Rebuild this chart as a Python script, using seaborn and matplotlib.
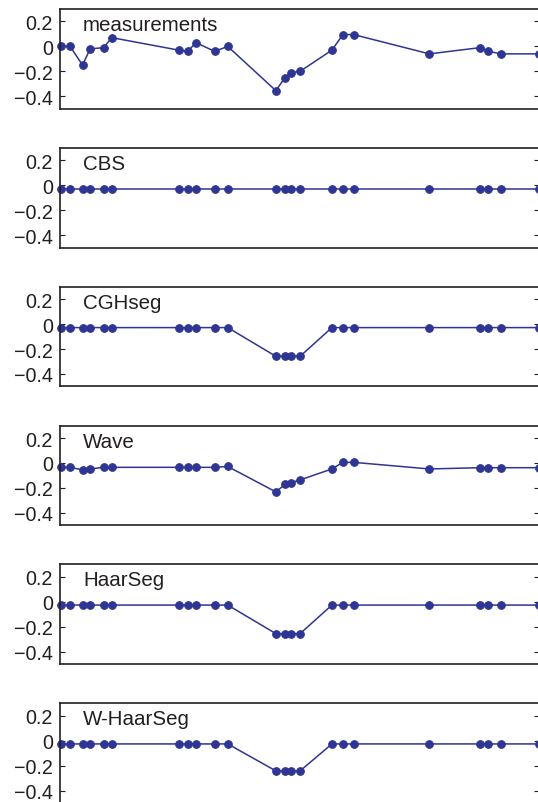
import matplotlib
matplotlib.use('Agg')

import matplotlib.pyplot as plt
import pandas as pd
import seaborn as sns

# probe positions along the chromosome (arbitrary units)
positions = [0, 9.3, 21.7, 29.3, 42.7, 51, 117.7, 126.7, 135, 153.7, 166.7,
             214.7, 224, 229.7, 239, 270.7, 281.7, 292.3, 368, 418.7, 427, 440, 477.3]

measurements = [0.0, 0.0, -0.15, -0.02, -0.01, 0.07, -0.03, -0.04, 0.03, -0.04, 0.0,
                -0.355, -0.25, -0.21, -0.20, -0.03, 0.095, 0.095, -0.06, -0.01, -0.04, -0.06, -0.06]
cbs = [-0.028] * 23
cghseg = [-0.028] * 11 + [-0.258] * 4 + [-0.028] * 8
wave = [-0.035, -0.035, -0.055, -0.048, -0.035, -0.035, -0.035, -0.035, -0.035, -0.035, -0.028,
        -0.232, -0.172, -0.158, -0.136, -0.048, 0.005, 0.005, -0.048, -0.038, -0.038, -0.038, -0.038]
haarseg = [-0.026] * 11 + [-0.255] * 4 + [-0.026] * 8
w_haarseg = [-0.026] * 11 + [-0.242] * 4 + [-0.026] * 8

panel_names = ['measurements', 'CBS', 'CGHseg', 'Wave', 'HaarSeg', 'W-HaarSeg']
panel_values = [measurements, cbs, cghseg, wave, haarseg, w_haarseg]

ytick_values = [0.2, 0, -0.2, -0.4]
ytick_labels = ['0.2', '0', '\u22120.2', '\u22120.4']

sns.set_style('ticks')
plt.rcParams['font.family'] = ['Liberation Sans', 'DejaVu Sans']

color = '#2e3592'
ink = '#231f20'

W, H = 538, 803
fig = plt.figure(figsize=(W / 100, H / 100), dpi=100)

for i, (name, vals) in enumerate(zip(panel_names, panel_values)):
    top = 10 + 138.86 * i
    h = 99.7
    ax = fig.add_axes([60 / W, 1 - (top + h) / H, 478.8 / W, h / H])
    df = pd.DataFrame({'pos': positions, 'value': vals})
    sns.lineplot(data=df, x='pos', y='value', ax=ax, color=color, lw=1.1,
                 marker='o', markersize=5.5, markeredgecolor=color, estimator=None,
                 clip_on=False)
    ax.set_xlim(-0.8, 477.3)
    ax.set_ylim(-0.5, 0.3)
    ax.set_xticks([])
    ax.set_yticks(ytick_values)
    ax.set_yticklabels(ytick_labels)
    ax.tick_params(axis='y', direction='in', left=True, right=True, length=3.5,
                   width=0.8, color=ink, labelsize=14.2, labelcolor=ink, pad=5)
    ax.set_xlabel('')
    ax.set_ylabel('')
    for s in ax.spines.values():
        s.set_visible(True)
        s.set_color(ink)
        s.set_linewidth(1.2)
    ax.text(0.048, 0.845, name, transform=ax.transAxes, fontsize=14.8,
            color=ink, va='center', ha='left')

fig.savefig('out.png', dpi=100)
